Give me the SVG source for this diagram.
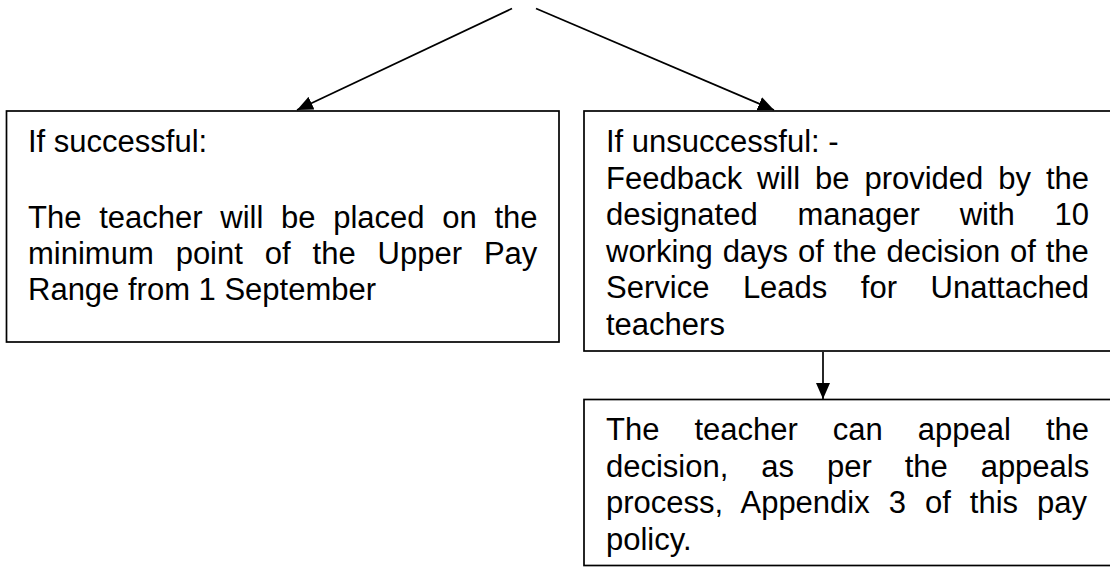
<svg xmlns="http://www.w3.org/2000/svg" width="1110" height="567" viewBox="0 0 1110 567">
  <style>
    .box { fill: #ffffff; stroke: #000000; stroke-width: 1.7; }
    .conn { stroke: #000000; stroke-width: 1.7; fill: none; }
    .t { font-family: "Liberation Sans", Arial, sans-serif; font-size: 31px; fill: #000000; }
  </style>
  <defs>
    <marker id="arrow" markerUnits="userSpaceOnUse" markerWidth="16" markerHeight="14" viewBox="0 0 16 14" refX="16" refY="7" orient="auto">
      <path d="M0,0 L16,7 L0,14 z" fill="#000000"/>
    </marker>
  </defs>
  <rect width="1110" height="567" fill="#ffffff"/>

  <g id="connectors">
    <line class="conn" x1="512" y1="8.5" x2="297" y2="110" marker-end="url(#arrow)"/>
    <line class="conn" x1="536" y1="8.5" x2="774" y2="110" marker-end="url(#arrow)"/>
    <line class="conn" x1="823" y1="352" x2="823" y2="399" marker-end="url(#arrow)"/>
  </g>

  <g id="node-successful">
    <rect class="box" x="6.5" y="111" width="552.5" height="231"/>
    <text class="t" x="28" y="152">If successful:</text>
    <text class="t" x="28" y="228" word-spacing="9.1">The teacher will be placed on the</text>
    <text class="t" x="28" y="264" word-spacing="13.3">minimum point of the Upper Pay</text>
    <text class="t" x="28" y="300">Range from 1 September</text>
  </g>

  <g id="node-unsuccessful">
    <rect class="box" x="584" y="111" width="540" height="240"/>
    <text class="t" x="606" y="152">If unsuccessful: -</text>
    <text class="t" x="606" y="188.5" word-spacing="6.3">Feedback will be provided by the</text>
    <text class="t" x="606" y="225" word-spacing="31.2">designated manager with 10</text>
    <text class="t" x="606" y="261.5" word-spacing="1.2">working days of the decision of the</text>
    <text class="t" x="606" y="298" word-spacing="24.9">Service Leads for Unattached</text>
    <text class="t" x="606" y="334.5">teachers</text>
  </g>

  <g id="node-appeal">
    <rect class="box" x="584" y="399.5" width="540" height="166"/>
    <text class="t" x="606" y="440" word-spacing="26.4">The teacher can appeal the</text>
    <text class="t" x="606" y="476.5" word-spacing="24.3">decision, as per the appeals</text>
    <text class="t" x="606" y="513" word-spacing="10.4">process, Appendix 3 of this pay</text>
    <text class="t" x="606" y="549.5">policy.</text>
  </g>
</svg>
